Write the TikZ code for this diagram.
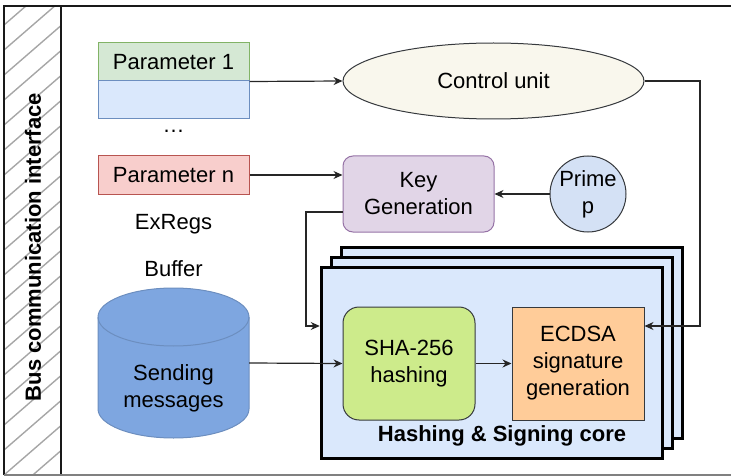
\documentclass[tikz,border=0pt]{standalone}
\usepackage{fontspec}
\setmainfont{Liberation Sans}
\usetikzlibrary{arrows.meta, positioning, shapes, calc}
\definecolor{grnF}{HTML}{D5E8D4}\definecolor{grnD}{HTML}{82B366}
\definecolor{bluF}{HTML}{DAE8FC}\definecolor{bluD}{HTML}{6C8EBF}
\definecolor{redF}{HTML}{F8CECC}\definecolor{redD}{HTML}{B85450}
\definecolor{purF}{HTML}{E1D5E7}\definecolor{purD}{HTML}{9673A6}
\definecolor{ellF}{HTML}{F9F7ED}\definecolor{drkD}{HTML}{36393D}
\definecolor{priF}{HTML}{D4E1F5}\definecolor{cylF}{HTML}{7EA6E0}
\definecolor{shaF}{HTML}{CDEB8B}\definecolor{ecdF}{HTML}{FFCC99}
\tikzset{
  blk/.style = {align=center, inner sep=0pt, text centered,
    font=\fontsize{22}{27}\selectfont},
  reg_g/.style = {blk, rectangle, draw=grnD, fill=grnF, line width=1pt,
    minimum width=151pt, minimum height=38pt},% registre, vert
  reg_b/.style = {reg_g, draw=bluD, fill=bluF},% registre, bleu
  reg_r/.style = {reg_g, draw=redD, fill=redF},% registre, rouge
  ctl_u/.style = {blk, ellipse, draw=drkD, fill=ellF, line width=1pt,
    minimum width=301pt, minimum height=76pt},
  key_g/.style = {blk, rectangle, rounded corners=10pt, draw=purD, fill=purF,
    line width=1pt, minimum width=151pt, minimum height=76pt},
  prm_c/.style = {blk, circle, draw=drkD, fill=priF, line width=1pt,
    minimum size=76pt},
  buf_c/.style = {blk, rectangle, minimum width=151pt, minimum height=150pt},% place du cylindre
  cyl_l/.style = {draw=bluD, fill=cylF, line width=1pt},
  core/.style = {rectangle, draw=black, fill=bluF, line width=3.5pt,
    minimum width=341pt, minimum height=191pt},% coeur empile
  sha_b/.style = {blk, rectangle, rounded corners=16pt, draw=drkD, fill=shaF,
    line width=1pt, minimum width=132pt, minimum height=113pt},
  ecd_b/.style = {blk, rectangle, draw=drkD, fill=ecdF, line width=1pt,
    minimum width=132pt, minimum height=113pt},
  hatchln/.style = {gray!70, line width=1.4pt},
  link/.style = {-{Stealth[length=9pt,width=8pt]}, line width=1.2pt, black!85}
}
\begin{document}
\begin{tikzpicture}[x=1pt, y=-1pt]
\useasboundingbox (0,0) rectangle (731,476);
% bus strip
\begin{scope}
  \clip (4,6) rectangle (61,475);
  \foreach \k in {0,25,...,550}
    \draw[hatchln] (4,\k) -- ++(60,-52);
\end{scope}
\draw[line width=1.4pt, black!90] (4,475) -- (4,6) -- (731,6);
\draw[line width=1.4pt, black!90] (61,6) -- (61,475);
\draw[line width=1.2pt, gray] (4,475) -- (731,475);
\node[blk, rotate=90, font=\fontsize{22}{26}\selectfont\bfseries] (bus) at (33,247)
  {Bus communication interface};

% external registers
\node [reg_g] (p1) at (173.5,62) {Parameter 1};
\node [reg_b] (p1b) at (173.5,99.5) {};
\node [blk, anchor=base] (dots) at (173.5,133) {\ldots};
\node [reg_r] (pn) at (173.5,175) {Parameter n};
\node [blk, anchor=base] (exregs) at (173.5,229) {ExRegs};
\node [blk, anchor=base] (buffer) at (173.5,276) {Buffer};
\node [buf_c] (buf) at (173.5,363) {};
\draw[cyl_l] (98,317) -- (98,409)
  arc[start angle=180, end angle=0, x radius=75.5, y radius=29] -- (249,317)
  arc[start angle=0, end angle=-180, x radius=75.5, y radius=29] -- cycle;
\draw[cyl_l, fill=none] (98,317)
  arc[start angle=180, end angle=0, x radius=75.5, y radius=29];
\node [blk] (bufTxt) at (173.5,388) {Sending\\messages};

% control and keys
\node [ctl_u] (cu) at (493.5,81) {Control unit};
\node [key_g] (kg) at (418.5,194) {Key\\Generation};
\node [prm_c] (prime) at (588,194) {Prime\\p};

% hashing & signing core
\node [core] (core3) at (512,343) {};
\node [core] (core2) at (502,353) {};
\node [core] (core1) at (492,363) {};
\node [sha_b] (sha) at (409,363.5) {SHA-256\\hashing};
\node [ecd_b] (ecdsa) at (578,363.5) {ECDSA\\signature\\generation};
\node [blk, font=\fontsize{22}{27}\selectfont\bfseries] (corelbl) at (502,436)
  {Hashing \& Signing core};

% links
\coordinate (cuTurn) at (700,326);
\coordinate (kgTurn) at (306,326);
\draw[link] (p1.south east) -- (cu.west);
\draw[link] (pn.east) -- (pn.east -| kg.west);
\draw[link] (prime.west) -- (kg.east);
\draw[link] ([yshift=-18pt]kg.west) -| (kgTurn) -- (kgTurn -| core1.west);
\draw[link] (cu.east) -| (cuTurn) -- (cuTurn -| ecdsa.east);
\draw[link] (buf.east) -- (sha.west);
\draw[link] (sha.east) -- (ecdsa.west);
\end{tikzpicture}
\end{document}
